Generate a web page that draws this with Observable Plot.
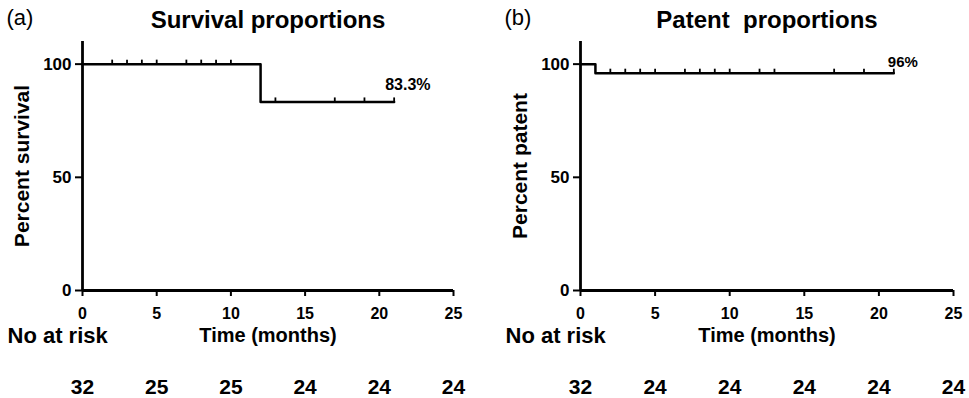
<!DOCTYPE html>
<html><head><meta charset="utf-8">
<script src="https://cdn.jsdelivr.net/npm/d3@7"></script>
<script src="https://cdn.jsdelivr.net/npm/@observablehq/plot@0.6"></script>
<style>
body{margin:0;background:#fff;}
#wrap{display:flex;width:969px;height:398px;}
</style>
</head><body><div id="wrap"></div>
<script>
// ---- data ----
const timeTicks = [0, 5, 10, 15, 20, 25];
const pctTicks = [0, 50, 100];

const survTime = [0, 12, 21];
const survPct = [100, 83.3, 83.3];
const survCensorTime = [2, 3, 4, 5, 7, 8, 9, 10, 13, 17, 19, 21];
const survCensorPct = [100, 100, 100, 100, 100, 100, 100, 100, 83.3, 83.3, 83.3, 83.3];
const survAtRisk = [32, 25, 25, 24, 24, 24];

const patTime = [0, 1, 21];
const patPct = [100, 96, 96];
const patCensorTime = [2, 3, 4, 5, 7, 8, 9, 10, 12, 13, 17, 19, 21];
const patCensorPct = [96, 96, 96, 96, 96, 96, 96, 96, 96, 96, 96, 96, 96];
const patAtRisk = [32, 24, 24, 24, 24, 24];

const FONT = "'Liberation Sans', Arial, Helvetica, sans-serif";
const tickSym = {draw(ctx, size) { const l = Math.sqrt(size / Math.PI); ctx.moveTo(0, 0); ctx.lineTo(0, -l); }};

function panel(o) {
  const line = o.time.map((t, i) => ({t, p: o.pct[i]}));
  const cens = o.cTime.map((t, i) => ({t, p: o.cPct[i]}));
  const risk = timeTicks.map((t, i) => ({t, n: o.atRisk[i]}));
  const last = line[line.length - 1];
  const svg = Plot.plot({
    width: o.width, height: 398,
    marginLeft: o.ml, marginRight: o.mr, marginTop: 41, marginBottom: 108,
    x: {domain: [0, 25]},
    y: {domain: [0, 110]},
    style: {fontFamily: FONT, background: "white", color: "black", overflow: "visible"},
    marks: [
      Plot.axisX({ticks: timeTicks, tickSize: 6, strokeWidth: 2, tickFormat: () => "", label: null}),
      Plot.axisY({ticks: pctTicks, tickSize: 7, strokeWidth: 2, tickFormat: () => "", label: null}),
      Plot.text(timeTicks, {x: d => d, text: d => String(d), frameAnchor: "bottom", dy: 17, lineAnchor: "top", fontSize: 16, fontWeight: "bold"}),
      Plot.text(pctTicks, {y: d => d, text: d => String(d), frameAnchor: "left", dx: -11, textAnchor: "end", fontSize: 17, fontWeight: "bold"}),
      Plot.ruleY([0], {strokeWidth: 2.8}),
      Plot.ruleX([0], {y1: 0, y2: 110, strokeWidth: 2.8}),
      Plot.line(line, {x: "t", y: "p", curve: "step-after", strokeWidth: 2.5}),
      Plot.dot(cens, {x: "t", y: "p", symbol: tickSym, r: 4.5, stroke: "black", strokeWidth: 1.8, fill: "none"}),
      Plot.text([last], {x: "t", y: "p", text: () => o.endLabel, textAnchor: "start", lineAnchor: "bottom", dx: o.endDx, dy: o.endDy, fontSize: o.endSize, fontWeight: "bold"}),
      Plot.text(risk, {x: "t", text: d => String(d.n), frameAnchor: "bottom", dy: 103, lineAnchor: "bottom", fontSize: 21, fontWeight: "bold"}),
      Plot.text([o.title], {text: d => d, frameAnchor: "top", dy: -14, lineAnchor: "bottom", fontSize: 24, fontWeight: "bold"}),
      Plot.text([o.tag], {text: d => d, frameAnchor: "top-left", dx: -76, dy: -17, textAnchor: "start", lineAnchor: "bottom", fontSize: 22}),
      Plot.text([o.ylabel], {text: d => d, frameAnchor: "left", textAnchor: "middle", rotate: -90, dx: -60, fontSize: 21, fontWeight: "bold"}),
      Plot.text(["No at risk"], {text: d => d, frameAnchor: "bottom-left", dx: -75, dy: 52, textAnchor: "start", lineAnchor: "bottom", fontSize: 22, fontWeight: "bold"}),
      Plot.text(["Time (months)"], {text: d => d, frameAnchor: "bottom", dy: 51, lineAnchor: "bottom", fontSize: 20, fontWeight: "bold"})
    ]
  });
  return svg;
}

const wrap = document.getElementById("wrap");
wrap.append(panel({
  tag: "(a)", title: "Survival proportions", ylabel: "Percent survival",
  time: survTime, pct: survPct, cTime: survCensorTime, cPct: survCensorPct, atRisk: survAtRisk,
  endLabel: "83.3%", endDx: -9, endDy: -12, endSize: 16,
  width: 485, ml: 82, mr: 32
}));
wrap.append(panel({
  tag: "(b)", title: "Patent\u00a0\u00a0proportions", ylabel: "Percent patent",
  time: patTime, pct: patPct, cTime: patCensorTime, cPct: patCensorPct, atRisk: patAtRisk,
  endLabel: "96%", endDx: -6, endDy: -6, endSize: 15,
  width: 484, ml: 95, mr: 16
}));
</script>
</body></html>
